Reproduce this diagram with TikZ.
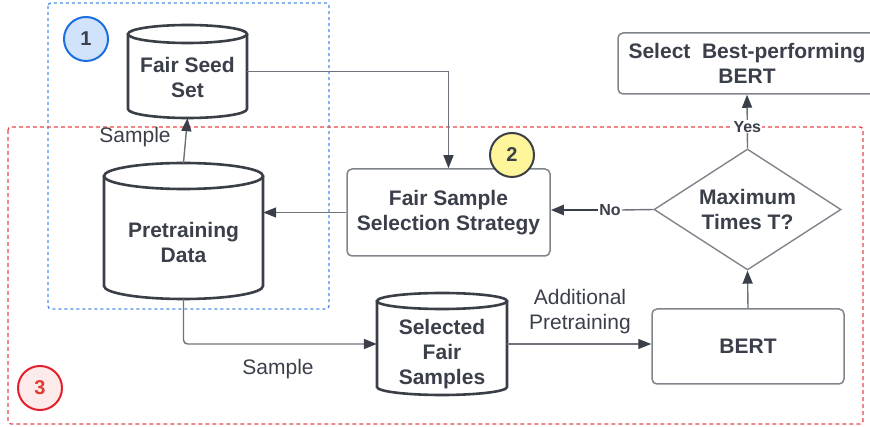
\documentclass[tikz,border=0pt]{standalone}
\usepackage{fontspec}
\setmainfont{Liberation Sans}
\usetikzlibrary{shapes.geometric,arrows.meta}
\definecolor{textc}{HTML}{3A3F4A}
\definecolor{linec}{HTML}{6E737B}
\definecolor{tipc}{HTML}{3A3F4A}
\definecolor{boxc}{HTML}{80858C}
\definecolor{cylc}{HTML}{3A3F47}
\definecolor{bluedash}{HTML}{4A8FE7}
\definecolor{reddash}{HTML}{E8474A}
\definecolor{bOnefill}{HTML}{D0E3FA}
\definecolor{bOnedraw}{HTML}{1C6FE0}
\definecolor{bTwofill}{HTML}{FFF59A}
\definecolor{bThreefill}{HTML}{FDEBEB}
\definecolor{bThreedraw}{HTML}{E3202A}
\definecolor{bThreetext}{HTML}{E03B30}
\tikzset{
  txt/.style={font=\bfseries\fontsize{21}{25}\selectfont, text=textc, align=center},
  lbl/.style={font=\fontsize{21}{25}\selectfont, text=textc, align=center, inner sep=0pt},
  yn/.style={font=\bfseries\fontsize{16}{18}\selectfont, text=textc, fill=white, inner sep=1pt},
  procbox/.style={draw=boxc, line width=1.5pt, rounded corners=5pt, fill=white, inner sep=0pt, txt},
  conn/.style={draw=linec, line width=1.4pt, -{Triangle[length=13pt,width=10pt,color=tipc]}},
  plainconn/.style={draw=linec, line width=1.4pt},
  cylline/.style={draw=cylc, line width=2.6pt, fill=white},
  holder/.style={draw=none, inner sep=0pt, rectangle},
  badge/.style={circle, minimum size=44pt, inner sep=0pt, line width=2pt, font=\bfseries\fontsize{20}{21}\selectfont},
}
% #1 name, #2 x1, #3 top, #4 x2, #5 bottom, #6 ry
\newcommand\mycyl[6]{%
  \pgfmathsetmacro\myrx{(#4-#2)/2}%
  \draw[cylline] (#2,#3+#6) -- (#2,#5-#6) arc[start angle=180,end angle=360,x radius=\myrx pt,y radius=#6 pt] -- (#4,#3+#6);
  \draw[cylline] (#2+\myrx,#3+#6) ellipse[x radius=\myrx pt,y radius=#6 pt];
  \node[holder, minimum width=#4-#2, minimum height=#5-#3] (#1) at ({(#2+#4)/2},{(#3+#5)/2}) {};
}
\begin{document}
\begin{tikzpicture}[x=1pt,y=-1pt]
\useasboundingbox (0,0) rectangle (870,427);
% group frames
\draw[bluedash, line width=1.3pt, dash pattern=on 3pt off 3pt, rounded corners=3pt] (48,3) rectangle (329,309);
\draw[reddash, line width=1.3pt, dash pattern=on 4pt off 3pt, rounded corners=3pt] (8,127) rectangle (863,424);

% cylinders
\mycyl{fss}{128}{25}{247}{118}{9}
\node[txt] (fsstext) at (187.5,77) {Fair Seed\\Set};
\mycyl{pd}{104}{163}{263}{299}{13}
\node[txt] (pdtext) at (183.5,242) {Pretraining\\Data};
\mycyl{sfs}{377}{293}{507}{395}{8}
\node[txt] (sfstext) at (442,354) {Selected\\Fair\\Samples};

% boxes
\node[procbox, minimum width=203pt, minimum height=87pt] (fsel) at (448.5,212.5) {Fair Sample\\Selection Strategy};
\node[procbox, minimum width=192pt, minimum height=75pt] (bert) at (748,346.5) {BERT};
\node[procbox, minimum width=258pt, minimum height=61pt] (best) at (747,63.5) {Select~ Best-performing\\BERT};
\node[diamond, draw=boxc, line width=1.4pt, fill=white, minimum width=187pt, minimum height=121pt, inner sep=0pt, aspect=1.55, txt] (dia) at (747.5,209.5) {Maximum\\Times T?};

% connectors
\draw[conn] (pd.north) -- (fss.south);
\draw[conn] (fss.east) -| (fsel.north);
\draw[conn] (fsel.west) -- (fsel.west -| pd.east);
\node[yn] (no) at (610,210) {No};
\draw[plainconn] (dia.west) -- (no.east);
\draw[draw=cylc, line width=2.4pt, -{Triangle[length=13pt,width=10pt,color=tipc]}] (no.west) -- (no.west -| fsel.east);
\draw[conn] (dia.north) -- (best.south) node[yn, pos=0.4] (yes) {Yes};
\draw[conn] (bert.north) -- (dia.south);
\draw[conn, rounded corners=4pt] (pd.south) |- (sfs.west);
\draw[conn] (sfs.east) -- (sfs.east -| bert.west);

% labels
\node[lbl] (sampletop) at (135,137) {Sample};
\node[lbl] (samplebot) at (278,369) {Sample};
\node[lbl] (addpre) at (580,312) {Additional\\Pretraining};

% badges
\node[badge, fill=bOnefill, draw=bOnedraw, text=textc] (b1) at (86,39) {1};
\node[badge, fill=bTwofill, draw=cylc, text=textc] (b2) at (512,155) {2};
\node[badge, fill=bThreefill, draw=bThreedraw, text=bThreetext] (b3) at (40,388) {3};
\end{tikzpicture}
\end{document}
